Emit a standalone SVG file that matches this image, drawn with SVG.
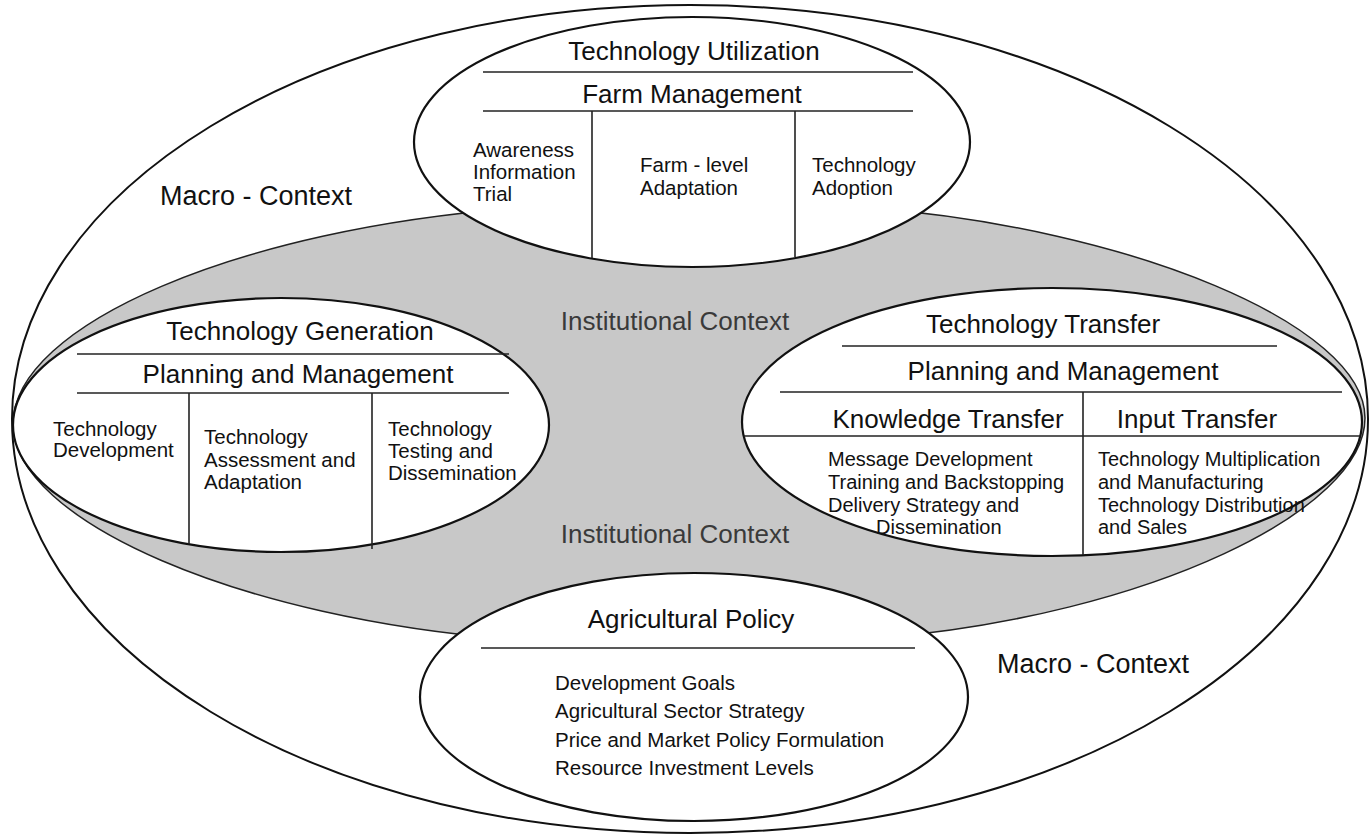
<svg xmlns="http://www.w3.org/2000/svg" width="1370" height="836" viewBox="0 0 1370 836">
<style>
text{font-family:"Liberation Sans",Arial,Helvetica,sans-serif;fill:#111}
.el{fill:#fff;stroke:#111;stroke-width:2.2}
.ln{stroke:#222;stroke-width:1.6;fill:none}
.t{font-size:26px;text-anchor:middle}
.b{font-size:20.5px}
.br{font-size:20px}
.ctx{font-size:27px}
.inst{font-size:26px;text-anchor:middle;fill:#3a3a3a}
</style>
<rect width="1370" height="836" fill="#fff"/>
<g id="macro-context">
<ellipse cx="690" cy="419" rx="678" ry="414" fill="#fff" stroke="#111" stroke-width="2"/>
<text class="ctx" x="160" y="205">Macro - Context</text>
<text class="ctx" x="997" y="673">Macro - Context</text>
</g>
<g id="institutional-context">
<path d="M13,424 C13,325 240,228 520,208 C600,196 790,196 870,208 C1130,228 1365,325 1365,418 C1365,510 1150,615 880,638 C800,655 600,655 520,640 C240,620 13,520 13,424 Z" fill="#c8c8c8" stroke="#222" stroke-width="1.5"/>
<text class="inst" x="675" y="330">Institutional Context</text>
<text class="inst" x="675" y="543">Institutional Context</text>
</g>
<g id="technology-utilization">
<ellipse class="el" cx="692" cy="142" rx="278" ry="125"/>
<line class="ln" x1="483" y1="72" x2="913" y2="72"/>
<line class="ln" x1="483" y1="111" x2="913" y2="111"/>
<line class="ln" x1="592" y1="111" x2="592" y2="258"/>
<line class="ln" x1="795" y1="111" x2="795" y2="257"/>
<text class="t" x="694" y="60">Technology Utilization</text>
<text class="t" x="692" y="103">Farm Management</text>
<text class="b" x="473" y="157">Awareness</text>
<text class="b" x="473" y="179">Information</text>
<text class="b" x="473" y="201">Trial</text>
<text class="b" x="640" y="172">Farm - level</text>
<text class="b" x="640" y="195">Adaptation</text>
<text class="b" x="812" y="172">Technology</text>
<text class="b" x="812" y="195">Adoption</text>
</g>
<g id="technology-generation">
<ellipse class="el" cx="281" cy="425" rx="268" ry="127"/>
<line class="ln" x1="77" y1="354" x2="509" y2="354"/>
<line class="ln" x1="77" y1="393" x2="509" y2="393"/>
<line class="ln" x1="189" y1="393" x2="189" y2="544"/>
<line class="ln" x1="372" y1="393" x2="372" y2="549"/>
<text class="t" x="300" y="340">Technology Generation</text>
<text class="t" x="298" y="383">Planning and Management</text>
<text class="b" x="53" y="436">Technology</text>
<text class="b" x="53" y="457">Development</text>
<text class="b" x="204" y="444">Technology</text>
<text class="b" x="204" y="467">Assessment and</text>
<text class="b" x="204" y="489">Adaptation</text>
<text class="b" x="388" y="436">Technology</text>
<text class="b" x="388" y="458">Testing and</text>
<text class="b" x="388" y="480">Dissemination</text>
</g>
<g id="technology-transfer">
<ellipse class="el" cx="1052" cy="422" rx="310" ry="134"/>
<line class="ln" x1="842" y1="346" x2="1277" y2="346"/>
<line class="ln" x1="780" y1="392" x2="1342" y2="392"/>
<line class="ln" x1="744" y1="436" x2="1360" y2="436"/>
<line class="ln" x1="1083" y1="392" x2="1083" y2="555"/>
<text class="t" x="1043" y="333">Technology Transfer</text>
<text class="t" x="1063" y="380">Planning and Management</text>
<text class="t" x="948" y="428">Knowledge Transfer</text>
<text class="t" x="1197" y="428">Input Transfer</text>
<text class="br" x="828" y="466">Message Development</text>
<text class="br" x="828" y="489">Training and Backstopping</text>
<text class="br" x="828" y="512">Delivery Strategy and</text>
<text class="br" x="876" y="534">Dissemination</text>
<text class="br" x="1098" y="466">Technology Multiplication</text>
<text class="br" x="1098" y="489">and Manufacturing</text>
<text class="br" x="1098" y="512">Technology Distribution</text>
<text class="br" x="1098" y="534">and Sales</text>
</g>
<g id="agricultural-policy">
<ellipse class="el" cx="694" cy="697" rx="274" ry="124"/>
<line class="ln" x1="481" y1="648" x2="915" y2="648"/>
<text class="t" x="691" y="628">Agricultural Policy</text>
<text class="b" x="555" y="690">Development Goals</text>
<text class="b" x="555" y="718">Agricultural Sector Strategy</text>
<text class="b" x="555" y="747">Price and Market Policy Formulation</text>
<text class="b" x="555" y="775">Resource Investment Levels</text>
</g>
</svg>
